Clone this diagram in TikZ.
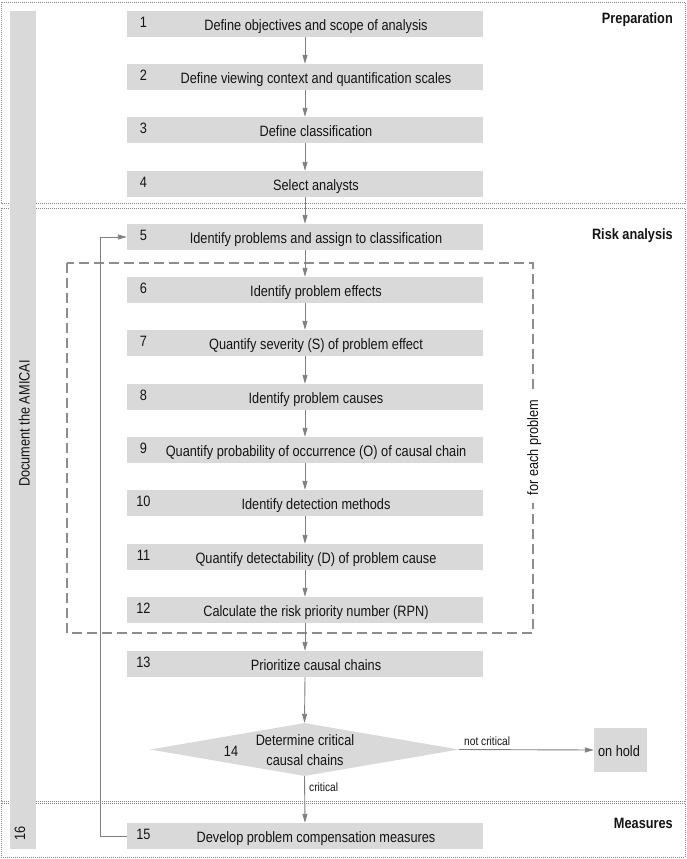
\documentclass[tikz,border=0pt]{standalone}
\usepackage{fontspec}
\setmainfont{Liberation Sans}[FakeStretch=0.85]
\usetikzlibrary{shapes.geometric,arrows.meta}
\definecolor{boxgray}{HTML}{D9D9D9}
\definecolor{linegray}{HTML}{808080}
\definecolor{framegray}{HTML}{8A8A8A}
\definecolor{txt}{HTML}{141414}
\newcommand\mystep[4]{%
  \node[stepbox] (#1) at (305,#2) {};
  \node[steptext] (#1t) at (316,#2+3) {#4};
  \node[numtext] (#1n) at (143.5,#2) {#3};
}
\begin{document}
\begin{tikzpicture}[x=1pt,y=-1pt,
  every node/.style={text=txt},
  stepbox/.style={fill=boxgray, minimum width=356pt, minimum height=26pt, inner sep=0pt},
  steptext/.style={inner sep=0pt, font=\fontsize{15}{17}\selectfont, text height=10.5pt, text depth=3.5pt},
  numtext/.style={inner sep=0pt, font=\fontsize{15}{17}\selectfont, text height=10.5pt, text depth=3.5pt},
  seclabel/.style={inner sep=0pt, anchor=east, font=\fontsize{15}{17}\selectfont\bfseries, text height=10.5pt, text depth=3.5pt},
  smalllabel/.style={inner sep=0pt, font=\fontsize{12}{14}\selectfont, text height=8.5pt, text depth=2.5pt},
  arr/.style={draw=linegray, line width=0.9pt, -{Triangle[length=9pt,width=5pt]}},
  frame/.style={draw=framegray, line width=0.9pt, dash pattern=on 1pt off 1pt},
  loopbox/.style={draw=linegray!90, line width=1.5pt, dash pattern=on 10pt off 5pt},
]
\useasboundingbox (0,0) rectangle (686,859);
% section frames
\draw[frame] (1,2) rectangle (685,203);
\draw[frame] (1,208) rectangle (685,801);
\draw[frame] (1,803) rectangle (685,857);
\node[seclabel] (secp) at (673,20.5) {Preparation};
\node[seclabel] (secr) at (673,235.5) {Risk analysis};
\node[seclabel] (secm) at (673,824.5) {Measures};
% left bar
\fill[boxgray] (10,11) rectangle (36,849);
\node[steptext, rotate=90] (doc) at (26,423.5) {Document the AMICAI};
\node[steptext, rotate=90] (n16) at (21.5,833) {16};
% loop box
\draw[loopbox] (67,263) rectangle (533,633);
\node[steptext, rotate=90, fill=white, inner xsep=8pt, inner ysep=2pt] (fep) at (534.5,447.5) {for each problem};
% steps
\mystep{s1}{24}{1}{Define objectives and scope of analysis}
\mystep{s2}{77}{2}{Define viewing context and quantification scales}
\mystep{s3}{130}{3}{Define classification}
\mystep{s4}{184}{4}{Select analysts}
\mystep{s5}{237}{5}{Identify problems and assign to classification}
\mystep{s6}{290}{6}{Identify problem effects}
\mystep{s7}{343}{7}{Quantify severity (S) of problem effect}
\mystep{s8}{397}{8}{Identify problem causes}
\mystep{s9}{450}{9}{Quantify probability of occurrence (O) of causal chain}
\mystep{s10}{503}{10}{Identify detection methods}
\mystep{s11}{557}{11}{Quantify detectability (D) of problem cause}
\mystep{s12}{610}{12}{Calculate the risk priority number (RPN)}
\mystep{s13}{664}{13}{Prioritize causal chains}
\mystep{s15}{836}{15}{Develop problem compensation measures}
% decision
\node[diamond, fill=boxgray, minimum width=309pt, minimum height=53pt, inner sep=0pt] (d14) at (304.5,749.5) {};
\node[steptext] (d14a) at (305,741.5) {Determine critical};
\node[steptext] (d14b) at (305,762) {causal chains};
\node[steptext] (d14n) at (231,753) {14};
\node[fill=boxgray, minimum width=53pt, minimum height=44pt, inner sep=0pt] (hold) at (620.5,750) {};
\node[steptext] (holdt) at (619,753) {on hold};
% arrows
\foreach \a/\b in {s1/s2,s2/s3,s3/s4,s4/s5,s5/s6,s6/s7,s7/s8,s8/s9,s9/s10,s10/s11,s11/s12,s12/s13}
  \draw[arr] (\a.south) -- (\b.north);
\draw[arr] (s13.south) -- (d14.north);
\draw[arr] (d14.south) -- (s15.north);
\draw[arr] (d14.east) -- (hold.west);
\node[smalllabel, anchor=west] (nc) at (464,742) {not critical};
\node[smalllabel, anchor=west] (cr) at (309,788.5) {critical};
\draw[arr] (s15.west) -- (100,836) |- (s5.west);
\end{tikzpicture}
\end{document}
